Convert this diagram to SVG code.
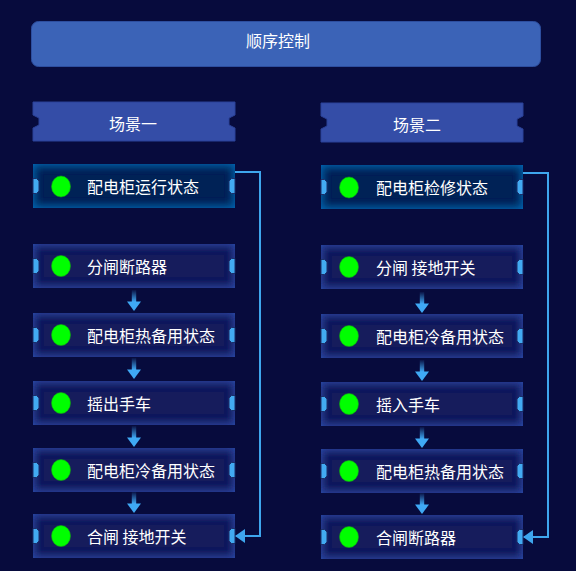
<svg xmlns="http://www.w3.org/2000/svg" width="576" height="571" viewBox="0 0 576 571">
  <defs>
    <style>
      .txt { font-family: "Noto Sans CJK SC", "Liberation Sans", sans-serif; font-size: 16px; fill: #ffffff; }
      .hdr { fill: #344da7; stroke: #2b4299; stroke-width: 1; }
      .body { fill: #131b5c; }
      .bodyHi { fill: #022357; }
      .tab { fill: #42aaf2; stroke: #1b2f6a; stroke-width: 1; }
      .dot { fill: #00ff00; stroke: #13a313; stroke-width: 0.6; }
      .conn { fill: none; stroke: #3ea6ee; stroke-width: 2; }
      .shaft { fill: url(#shaftGrad); }
      .head { fill: #3fa9f5; }
    </style>
    <linearGradient id="shaftGrad" x1="0" y1="0" x2="0" y2="1">
      <stop offset="0" stop-color="#3fa9f5" stop-opacity="0.05"/>
      <stop offset="1" stop-color="#3fa9f5" stop-opacity="1"/>
    </linearGradient>
    <filter id="glow" x="-15%" y="-50%" width="130%" height="200%">
      <feFlood flood-color="#2e4bad" result="c"/>
      <feComposite in="c" in2="SourceAlpha" operator="out" result="ring"/>
      <feGaussianBlur in="ring" stdDeviation="5" result="b"/>
      <feComposite in="b" in2="SourceAlpha" operator="in" result="inner"/>
      <feMerge><feMergeNode in="SourceGraphic"/><feMergeNode in="inner"/></feMerge>
    </filter>
    <filter id="glowHi" x="-15%" y="-50%" width="130%" height="200%">
      <feFlood flood-color="#0f6cbb" result="c"/>
      <feComposite in="c" in2="SourceAlpha" operator="out" result="ring"/>
      <feGaussianBlur in="ring" stdDeviation="5" result="b"/>
      <feComposite in="b" in2="SourceAlpha" operator="in" result="inner"/>
      <feMerge><feMergeNode in="SourceGraphic"/><feMergeNode in="inner"/></feMerge>
    </filter>
    <marker id="arr" markerUnits="userSpaceOnUse" markerWidth="10" markerHeight="14" viewBox="0 0 10 14" refX="9" refY="7" orient="auto">
      <path d="M0,0 L10,7 L0,14 Z" fill="#3ea6ee"/>
    </marker>
    <g id="tabs">
      <path class="tab" d="M0,-7.5 H3.5 L6,-5 V5 L3.5,7.5 H0 Z"/>
      <path class="tab" d="M202,-7.5 H198.5 L196,-5 V5 L198.5,7.5 H202 Z"/>
    </g>
    <g id="down">
      <rect class="shaft" x="-2.2" y="0" width="4.4" height="12"/>
      <path class="head" d="M-7,11.5 H7 L0,21 Z"/>
    </g>
  </defs>

  <rect x="0" y="0" width="576" height="571" fill="#070b3d"/>

  <g id="title">
    <rect x="31.5" y="21.5" width="509" height="45" rx="7" fill="#3b63b7" stroke="#2d4e9f" stroke-width="1"/>
    <text class="txt" x="278" y="47" text-anchor="middle">顺序控制</text>
  </g>

  <g id="scene1-header">
    <path class="hdr" d="M33,102 H235 V115 L229,118 V125 L235,128 V141 H33 V128 L39,125 V118 L33,115 Z"/>
    <text class="txt" x="133" y="130" text-anchor="middle">场景一</text>
  </g>
  <g id="scene2-header">
    <path class="hdr" d="M321,103 H523 V116 L517,119 V126 L523,129 V142 H321 V129 L327,126 V119 L321,116 Z"/>
    <text class="txt" x="417" y="131" text-anchor="middle">场景二</text>
  </g>

  <!-- Scene 1 nodes -->
  <g id="s1-n1">
    <rect class="bodyHi" x="33" y="164" width="202" height="44" filter="url(#glowHi)"/>
    <use href="#tabs" x="33" y="186"/>
    <ellipse class="dot" cx="61" cy="186.5" rx="9.5" ry="10.5"/>
    <text class="txt" x="87" y="193">配电柜运行状态</text>
  </g>
  <g id="s1-n2">
    <rect class="body" x="33" y="244" width="202" height="44" filter="url(#glow)"/>
    <use href="#tabs" x="33" y="266"/>
    <ellipse class="dot" cx="61" cy="266" rx="9.5" ry="10.5"/>
    <text class="txt" x="87" y="273">分闸断路器</text>
  </g>
  <g id="s1-n3">
    <rect class="body" x="33" y="313" width="202" height="44" filter="url(#glow)"/>
    <use href="#tabs" x="33" y="335"/>
    <ellipse class="dot" cx="61" cy="335" rx="9.5" ry="10.5"/>
    <text class="txt" x="87" y="342">配电柜热备用状态</text>
  </g>
  <g id="s1-n4">
    <rect class="body" x="33" y="381" width="202" height="44" filter="url(#glow)"/>
    <use href="#tabs" x="33" y="403"/>
    <ellipse class="dot" cx="61" cy="403" rx="9.5" ry="10.5"/>
    <text class="txt" x="87" y="410">摇出手车</text>
  </g>
  <g id="s1-n5">
    <rect class="body" x="33" y="448" width="202" height="44" filter="url(#glow)"/>
    <use href="#tabs" x="33" y="470"/>
    <ellipse class="dot" cx="61" cy="470" rx="9.5" ry="10.5"/>
    <text class="txt" x="87" y="477">配电柜冷备用状态</text>
  </g>
  <g id="s1-n6">
    <rect class="body" x="33" y="514" width="202" height="44" filter="url(#glow)"/>
    <use href="#tabs" x="33" y="536"/>
    <ellipse class="dot" cx="61" cy="536" rx="9.5" ry="10.5"/>
    <text class="txt" x="87" y="543">合闸 接地开关</text>
  </g>

  <!-- Scene 2 nodes -->
  <g id="s2-n1">
    <rect class="bodyHi" x="321" y="165" width="202" height="44" filter="url(#glowHi)"/>
    <use href="#tabs" x="321" y="187"/>
    <ellipse class="dot" cx="349" cy="187.5" rx="9.5" ry="10.5"/>
    <text class="txt" x="376" y="194">配电柜检修状态</text>
  </g>
  <g id="s2-n2">
    <rect class="body" x="321" y="245" width="202" height="44" filter="url(#glow)"/>
    <use href="#tabs" x="321" y="267"/>
    <ellipse class="dot" cx="349" cy="267" rx="9.5" ry="10.5"/>
    <text class="txt" x="376" y="274">分闸 接地开关</text>
  </g>
  <g id="s2-n3">
    <rect class="body" x="321" y="314" width="202" height="44" filter="url(#glow)"/>
    <use href="#tabs" x="321" y="336"/>
    <ellipse class="dot" cx="349" cy="336" rx="9.5" ry="10.5"/>
    <text class="txt" x="376" y="343">配电柜冷备用状态</text>
  </g>
  <g id="s2-n4">
    <rect class="body" x="321" y="382" width="202" height="44" filter="url(#glow)"/>
    <use href="#tabs" x="321" y="404"/>
    <ellipse class="dot" cx="349" cy="404" rx="9.5" ry="10.5"/>
    <text class="txt" x="376" y="411">摇入手车</text>
  </g>
  <g id="s2-n5">
    <rect class="body" x="321" y="449" width="202" height="44" filter="url(#glow)"/>
    <use href="#tabs" x="321" y="471"/>
    <ellipse class="dot" cx="349" cy="471" rx="9.5" ry="10.5"/>
    <text class="txt" x="376" y="478">配电柜热备用状态</text>
  </g>
  <g id="s2-n6">
    <rect class="body" x="321" y="515" width="202" height="44" filter="url(#glow)"/>
    <use href="#tabs" x="321" y="537"/>
    <ellipse class="dot" cx="349" cy="537" rx="9.5" ry="10.5"/>
    <text class="txt" x="376" y="544">合闸断路器</text>
  </g>

  <g id="connectors">
    <use href="#down" x="134" y="290"/>
    <use href="#down" x="134" y="358"/>
    <use href="#down" x="134" y="426"/>
    <use href="#down" x="134" y="492"/>
    <use href="#down" x="422" y="292"/>
    <use href="#down" x="422" y="360"/>
    <use href="#down" x="422" y="427"/>
    <use href="#down" x="422" y="493"/>
    <path class="conn" d="M235,172 H260 V536 H236" marker-end="url(#arr)"/>
    <path class="conn" d="M523,173 H548 V537 H524" marker-end="url(#arr)"/>
  </g>
</svg>
